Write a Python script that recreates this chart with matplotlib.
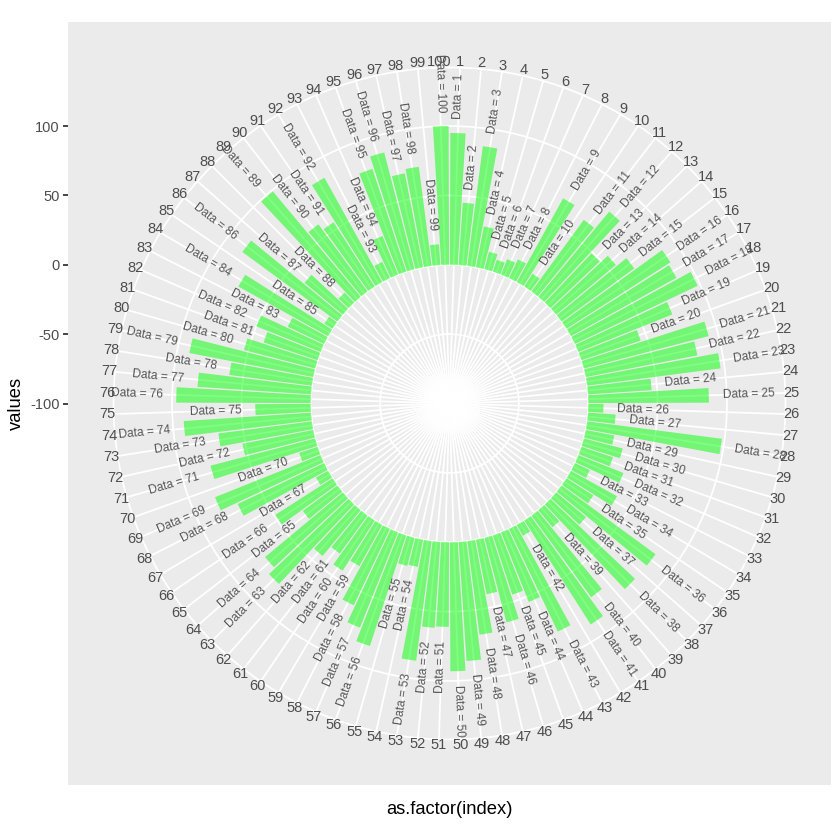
import numpy as np
import matplotlib
matplotlib.use("Agg")
import matplotlib.pyplot as plt

plt.rcParams["font.family"] = ["Liberation Sans", "DejaVu Sans"]

# --- data ---
index = list(range(1, 101))
values = [95, 45, 87, 30, 13, 9, 12, 15, 69, 11,
          64, 80, 49, 56, 65, 89, 87, 98, 73, 45,
          93, 82, 97, 46, 87, 11, 20, 98, 21, 29,
          24, 35, 12, 38, 23, 84, 28, 84, 16, 73,
          89, 9, 82, 54, 45, 63, 40, 68, 86, 93,
          61, 62, 87, 20, 21, 84, 74, 61, 34, 43,
          34, 43, 79, 73, 31, 49, 10, 69, 82, 14,
          78, 52, 68, 92, 40, 97, 82, 60, 91, 53,
          41, 50, 29, 74, 7, 85, 36, 10, 99, 60,
          55, 86, 13, 30, 78, 87, 69, 72, 15, 100]
y_ticks = [-100, -50, 0, 50, 100]
y_min, y_max = -100, 120

# --- layout (pixels of the 840x840 output) ---
FIG_PX = 840
DPI = 120
PANEL_LEFT, PANEL_TOP, PANEL_SIZE = 68, 22, 763
GRID_LW = 1.07
CIRCLE_PX = 336      # outer white circle
LABEL_PX = 342       # centre of the 1..100 labels


def px_rect(left, top, w, h):
    return [left / FIG_PX, 1 - (top + h) / FIG_PX, w / FIG_PX, h / FIG_PX]


fig = plt.figure(figsize=(FIG_PX / DPI, FIG_PX / DPI), dpi=DPI)

# grey panel, carries the radius axis on its left side
bg = fig.add_axes(px_rect(PANEL_LEFT, PANEL_TOP, PANEL_SIZE, PANEL_SIZE))
bg.set_facecolor("#EBEBEB")
span = y_max - y_min
px_per_unit = 0.4 * PANEL_SIZE / span     # data radius fills 0.4 of the panel
half = 0.5 * PANEL_SIZE / px_per_unit
bg.set_ylim(y_min - half, y_min + half)
bg.set_xlim(0, 1)
bg.set_xticks([])
bg.set_yticks(y_ticks)
bg.set_yticklabels([str(t) for t in y_ticks])
for s in bg.spines.values():
    s.set_visible(False)
bg.tick_params(axis="y", length=2.75, width=GRID_LW, color="#333333",
               labelsize=8.8, labelcolor="#4D4D4D", pad=2.2)
bg.set_ylabel("values", fontsize=11, color="black", labelpad=3.0)

# polar plot
r_outer = y_min + CIRCLE_PX / px_per_unit
r_label = y_min + LABEL_PX / px_per_unit
cx = PANEL_LEFT + PANEL_SIZE / 2
cy = PANEL_TOP + PANEL_SIZE / 2
ax = fig.add_axes(px_rect(cx - CIRCLE_PX, cy - CIRCLE_PX,
                          2 * CIRCLE_PX, 2 * CIRCLE_PX), projection="polar")
ax.set_facecolor("none")
ax.set_theta_zero_location("N")
ax.set_theta_direction(-1)
ax.set_ylim(y_min, r_outer)

n = len(index)
theta = 2 * np.pi * (np.array(index) - 0.5) / n
ax.set_axisbelow(True)
ax.bar(theta, values, width=0.9 * 2 * np.pi / n, bottom=0,
       color=(0, 1, 0, 0.5), linewidth=0)

ax.set_xticks(theta)
ax.set_xticklabels([])
ax.set_yticks([-50, 0, 50, 100])
ax.set_yticklabels([])
ax.grid(True, color="white", linewidth=GRID_LW)
ax.spines["polar"].set_color("white")
ax.spines["polar"].set_linewidth(GRID_LW)
ax.tick_params(length=0)

# category labels round the outside
for i, th in zip(index, theta):
    ax.text(th, r_label, str(i), ha="center", va="center", fontsize=8.8,
            color="#4D4D4D", clip_on=False)

# "Data = i" labels just past each bar
for i, v, th in zip(index, values, theta):
    ang = 90 - 360 * (i - 0.5) / n
    ha = "left"
    if ang < -90:
        ang += 180
        ha = "right"
    ax.text(th, v + 10, f"Data = {i}", rotation=ang, rotation_mode="anchor",
            ha=ha, va="center", fontsize=7.11, color="#555555",
            clip_on=False)

fig.text(cx / FIG_PX, 1 - 809 / FIG_PX, "as.factor(index)", fontsize=11,
         ha="center", va="center", color="black")

fig.savefig("out.png", dpi=DPI, facecolor="white")
